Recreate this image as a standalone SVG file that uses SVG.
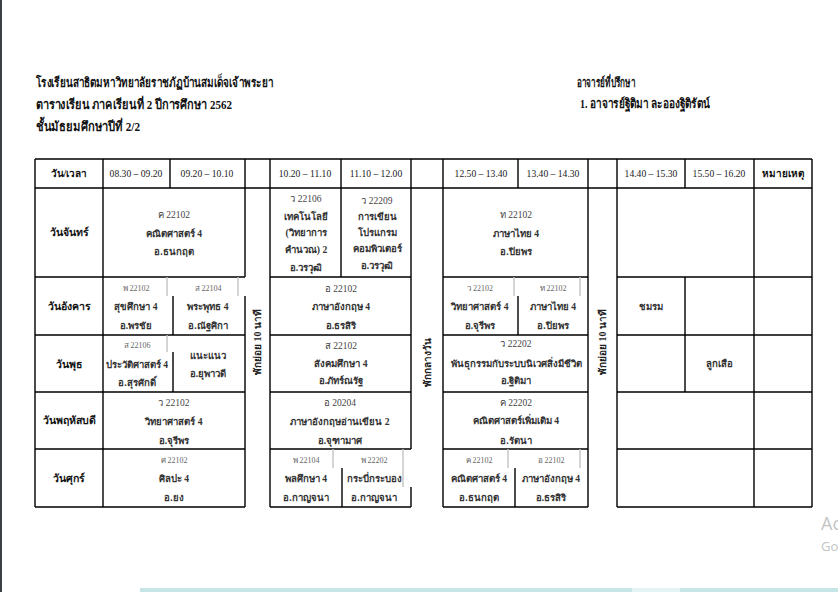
<svg xmlns="http://www.w3.org/2000/svg" width="838" height="592" viewBox="0 0 838 592">
<style>
text{font-family:"Liberation Serif","DejaVu Serif",serif}
.title{font-size:13px;font-weight:bold;fill:#111}
.hd{font-size:9.6px;fill:#222;text-anchor:middle}
.hb{font-size:10px;font-weight:bold;fill:#111;text-anchor:middle}
.day{font-size:10.5px;font-weight:bold;fill:#111;text-anchor:middle}
.t{font-size:9.6px;font-weight:bold;fill:#333;text-anchor:middle}
.c{font-size:9.5px;fill:#444;text-anchor:middle}
.s{font-size:8px;fill:#666;text-anchor:middle}
.v{font-size:10px;font-weight:bold;fill:#222;text-anchor:middle}
.k{stroke:#000;stroke-width:1.4;fill:none}
.g{stroke:#c4c4c4;stroke-width:1.4;fill:none}
.wm{font-family:"Open Sans","Noto Sans",sans-serif;fill:#c4c4c4}
</style>
<rect x="0" y="0" width="838" height="592" fill="#fff"/>
<rect x="0" y="0" width="2" height="592" fill="#3c3f43"/>
<rect x="140" y="588" width="698" height="4" fill="#c6e5e6"/>
<rect x="632" y="588" width="48" height="4" fill="#e4f2f3"/>

<g id="header-left">
<text class="title" x="36" y="87" textLength="237" lengthAdjust="spacingAndGlyphs">โรงเรียนสาธิตมหาวิทยาลัยราชภัฏบ้านสมเด็จเจ้าพระยา</text>
<text class="title" x="36" y="109" textLength="196" lengthAdjust="spacingAndGlyphs">ตารางเรียน  ภาคเรียนที่ 2 ปีการศึกษา 2562</text>
<text class="title" x="36" y="131" textLength="104" lengthAdjust="spacingAndGlyphs">ชั้นมัธยมศึกษาปีที่ 2/2</text>
</g>
<g id="header-right">
<text class="title" x="577" y="87" textLength="58" lengthAdjust="spacingAndGlyphs">อาจารย์ที่ปรึกษา</text>
<text class="title" x="580" y="108" textLength="130" lengthAdjust="spacingAndGlyphs">1. อาจารย์ฐิติมา  ละอองฐิติรัตน์</text>
</g>

<g id="grid">
<path class="k" d="M35 159H812M35 188H812
M35 277H245M270 277H411M443 277H588M617 277H812
M35 335H245M270 335H411M443 335H588M617 335H812
M35 392H245M270 392H411M443 392H588M617 392H812
M35 449H245M270 449H411M443 449H588M617 449H812
M35 507H245M270 507H411M443 507H588M617 507H812"/>
<path class="k" d="M35 159V507M103 159V507M170 159V188M173 296V335M173 352V392
M245 159V277M245 296V507M270 159V507M341 159V277M342 468V507
M411 159V449M411 487V507M443 159V507M518 159V188M518 296V335M515 468V507
M588 159V507M617 159V507M685 159V188M685 277V392M754 159V507M812 159V507"/>
<path class="g" d="M167 277V296M238 277V296M167 335V352M514 277V296M580 277V296
M333 449V468M403 449V487M508 449V468M580 449V468"/>
</g>

<g id="col-headers">
<text class="hb" x="69" y="177">วัน/เวลา</text>
<text class="hd" x="136" y="177">08.30 – 09.20</text>
<text class="hd" x="207" y="177">09.20 – 10.10</text>
<text class="hd" x="305" y="177">10.20 – 11.10</text>
<text class="hd" x="376" y="177">11.10 – 12.00</text>
<text class="hd" x="481" y="177">12.50 – 13.40</text>
<text class="hd" x="553" y="177">13.40 – 14.30</text>
<text class="hd" x="651" y="177">14.40 – 15.30</text>
<text class="hd" x="719" y="177">15.50 – 16.20</text>
<text class="hb" x="783" y="177">หมายเหตุ</text>
</g>

<g id="days">
<text class="day" x="69" y="236">วันจันทร์</text>
<text class="day" x="69" y="310">วันอังคาร</text>
<text class="day" x="69" y="368">วันพุธ</text>
<text class="day" x="69" y="424">วันพฤหัสบดี</text>
<text class="day" x="69" y="482">วันศุกร์</text>
</g>

<g id="breaks">
<text class="v" transform="translate(261 342) rotate(-90)">พักย่อย 10 นาที</text>
<text class="v" transform="translate(431 362) rotate(-90)">พักกลางวัน</text>
<text class="v" transform="translate(606 342) rotate(-90)">พักย่อย 10 นาที</text>
</g>

<g id="mon">
<g id="mon-math"><text class="c" x="174" y="218">ค 22102</text><text class="t" x="174" y="236.5">คณิตศาสตร์ 4</text><text class="t" x="174" y="255">อ.ธนกฤต</text></g>
<g id="mon-tech"><text class="c" x="306" y="202">ว 22106</text><text class="t" x="306" y="220">เทคโนโลยี</text><text class="t" x="306" y="236">(วิทยาการ</text><text class="t" x="306" y="253">คำนวณ) 2</text><text class="t" x="306" y="271">อ.วรวุฒิ</text></g>
<g id="mon-prog"><text class="c" x="377" y="204">ว 22209</text><text class="t" x="377" y="220">การเขียน</text><text class="t" x="377" y="236">โปรแกรม</text><text class="t" x="377" y="252">คอมพิวเตอร์</text><text class="t" x="377" y="269">อ.วรวุฒิ</text></g>
<g id="mon-thai"><text class="c" x="516" y="218">ท 22102</text><text class="t" x="516" y="236.5">ภาษาไทย 4</text><text class="t" x="516" y="255">อ.ปิยพร</text></g>
</g>

<g id="tue">
<g id="tue-health"><text class="s" x="136" y="291">พ 22102</text><text class="t" x="136" y="310">สุขศึกษา 4</text><text class="t" x="136" y="328.5">อ.พรชัย</text></g>
<g id="tue-bud"><text class="s" x="208" y="291">ส 22104</text><text class="t" x="208" y="310">พระพุทธ 4</text><text class="t" x="208" y="328.5">อ.ณัฐศิกา</text></g>
<g id="tue-eng"><text class="c" x="341" y="292">อ 22102</text><text class="t" x="341" y="310">ภาษาอังกฤษ 4</text><text class="t" x="341" y="328.5">อ.ธรสิริ</text></g>
<g id="tue-sci"><text class="s" x="480" y="291">ว 22102</text><text class="t" x="480" y="310">วิทยาศาสตร์ 4</text><text class="t" x="480" y="328.5">อ.จุรีพร</text></g>
<g id="tue-thai"><text class="s" x="553" y="291">ท 22102</text><text class="t" x="553" y="310">ภาษาไทย 4</text><text class="t" x="553" y="328.5">อ.ปิยพร</text></g>
<g id="tue-club"><text class="t" x="651" y="310">ชมรม</text></g>
</g>

<g id="wed">
<g id="wed-hist"><text class="s" x="137" y="348">ส 22106</text><text class="t" x="137" y="368">ประวัติศาสตร์ 4</text><text class="t" x="137" y="385.5">อ.สุรศักดิ์</text></g>
<g id="wed-guide"><text class="t" x="208" y="358.5">แนะแนว</text><text class="t" x="208" y="376.5">อ.ยุพาวดี</text></g>
<g id="wed-soc"><text class="c" x="341" y="348.5">ส 22102</text><text class="t" x="341" y="366.5">สังคมศึกษา 4</text><text class="t" x="341" y="384">อ.ภัทร์ณรัฐ</text></g>
<g id="wed-bio"><text class="c" x="516" y="347">ว 22202</text><text class="t" x="516" y="366.5">พันธุกรรมกับระบบนิเวศสิ่งมีชีวิต</text><text class="t" x="516" y="384">อ.ฐิติมา</text></g>
<g id="wed-scout"><text class="t" x="719" y="366.5">ลูกเสือ</text></g>
</g>

<g id="thu">
<g id="thu-sci"><text class="c" x="174" y="405.5">ว 22102</text><text class="t" x="174" y="425">วิทยาศาสตร์ 4</text><text class="t" x="174" y="443.5">อ.จุรีพร</text></g>
<g id="thu-eng"><text class="c" x="340" y="405.5">อ 20204</text><text class="t" x="340" y="425">ภาษาอังกฤษอ่านเขียน 2</text><text class="t" x="340" y="443.5">อ.จุฑามาศ</text></g>
<g id="thu-math"><text class="c" x="516" y="405.5">ค 22202</text><text class="t" x="516" y="424">คณิตศาสตร์เพิ่มเติม 4</text><text class="t" x="516" y="443.5">อ.รัตนา</text></g>
</g>

<g id="fri">
<g id="fri-art"><text class="s" x="174" y="463">ศ 22102</text><text class="t" x="174" y="481.5">ศิลปะ 4</text><text class="t" x="174" y="500.5">อ.ยง</text></g>
<g id="fri-pe"><text class="s" x="306" y="463">พ 22104</text><text class="t" x="306" y="481.5">พลศึกษา 4</text><text class="t" x="306" y="500.5">อ.กาญจนา</text></g>
<g id="fri-sword"><text class="s" x="374" y="463">พ 22202</text><text class="t" x="374" y="481.5">กระบี่กระบอง</text><text class="t" x="374" y="500.5">อ.กาญจนา</text></g>
<g id="fri-math"><text class="s" x="479" y="463">ค 22102</text><text class="t" x="479" y="481.5">คณิตศาสตร์ 4</text><text class="t" x="479" y="500.5">อ.ธนกฤต</text></g>
<g id="fri-eng"><text class="s" x="551" y="463">อ 22102</text><text class="t" x="551" y="481.5">ภาษาอังกฤษ 4</text><text class="t" x="551" y="500.5">อ.ธรสิริ</text></g>
</g>

<g id="watermark">
<text class="wm" x="821" y="530" font-size="18">Ac</text>
<text class="wm" x="821" y="551" font-size="13">Go</text>
</g>
</svg>
